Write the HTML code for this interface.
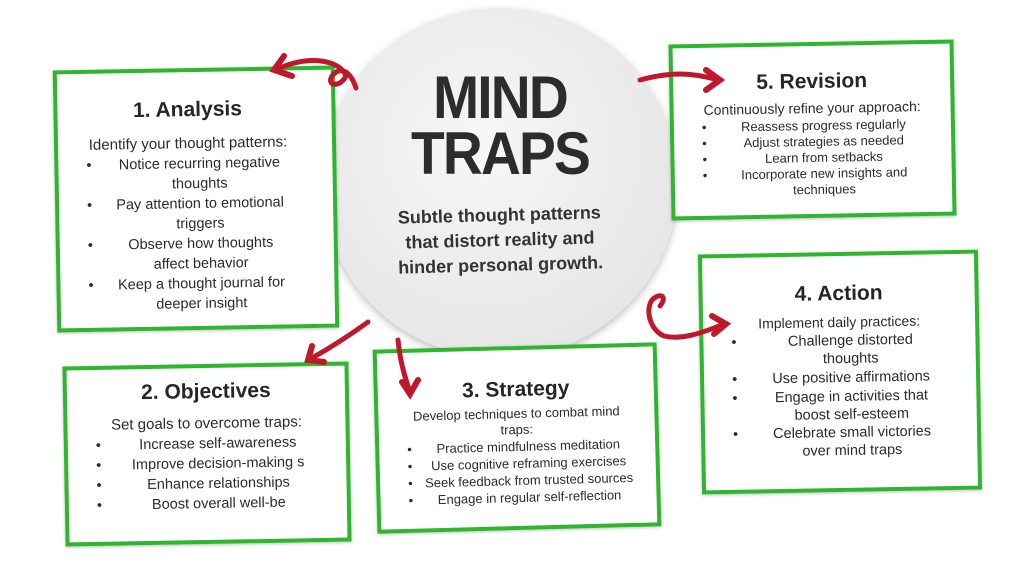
<!DOCTYPE html>
<html><head><meta charset="utf-8"><style>
html,body{margin:0;padding:0;}
body{width:1024px;height:576px;background:#fff;position:relative;overflow:hidden;font-family:"Liberation Sans",sans-serif;color:#2b2b2b;}
.box{position:absolute;border:4px solid #2fb52f;background:#fff;box-sizing:border-box;box-shadow:0 1px 3px rgba(0,0,0,.25);}
.box h2{margin:0;text-align:center;font-weight:bold;font-size:21px;color:#262626;}
.box .t{text-align:center;font-size:14px;line-height:20px;white-space:nowrap;}
.box ul{list-style:none;margin:0;padding:0;}
.box li{position:relative;text-align:center;font-size:14.5px;line-height:20px;padding-left:22px;white-space:nowrap;}
.box li:before{content:"•";position:absolute;left:28px;top:0;}
.circle{position:absolute;left:322px;top:8px;width:356px;height:350px;border-radius:50%;background:radial-gradient(circle at 45% 40%,#f7f7f7,#e6e6e6 75%,#dcdcdc);box-shadow:0 3px 8px rgba(0,0,0,.25);}
</style></head><body>
<div class="circle"></div>
<div style="position:absolute;left:322px;top:70px;width:356px;text-align:center;font-weight:bold;font-size:60px;line-height:56px;color:#2c2c2c;letter-spacing:-2px;transform:scaleX(0.92);">MIND<br>TRAPS</div>
<div style="position:absolute;left:350px;top:203px;width:300px;text-align:center;font-weight:bold;font-size:18px;line-height:25px;color:#333;transform:rotate(-1.5deg);">Subtle thought patterns<br>that distort reality and<br>hinder personal growth.</div>

<div class="box" style="left:55px;top:68px;width:282px;height:262px;transform:rotate(-1deg);padding-top:26px;padding-right:14px;">
<h2>1. Analysis</h2>
<div class="t" style="font-size:15px;margin-top:12px;">Identify your thought patterns:</div>
<ul><li>Notice recurring negative<br>thoughts</li><li>Pay attention to emotional<br>triggers</li><li>Observe how thoughts<br>affect behavior</li><li>Keep a thought journal for<br>deeper insight</li></ul>
</div>

<div class="box" style="left:670px;top:42px;width:285px;height:176px;transform:rotate(-1deg);padding-top:24px;">
<h2>5. Revision</h2>
<div class="t" style="margin-top:4px;">Continuously refine your approach:</div>
<ul><li style="font-size:13px;line-height:16px">Reassess progress regularly</li><li style="font-size:13px;line-height:16px">Adjust strategies as needed</li><li style="font-size:13px;line-height:16px">Learn from setbacks</li><li style="font-size:13px;line-height:16px">Incorporate new insights and<br>techniques</li></ul>
</div>

<div class="box" style="left:700px;top:252px;width:280px;height:240px;transform:rotate(-1deg);padding-top:26px;">
<h2>4. Action</h2>
<div class="t" style="margin-top:6px;">Implement daily practices:</div>
<ul><li style="line-height:18px">Challenge distorted<br>thoughts</li><li>Use positive affirmations</li><li style="line-height:18px">Engage in activities that<br>boost self-esteem</li><li style="line-height:18px">Celebrate small victories<br>over mind traps</li></ul>
</div>

<div class="box" style="left:64px;top:364px;width:286px;height:180px;transform:rotate(-1deg);padding-top:12px;">
<h2>2. Objectives</h2>
<div class="t" style="margin-top:10px;font-size:15px">Set goals to overcome traps:</div>
<ul><li>Increase self-awareness</li><li>Improve decision-making s</li><li>Enhance relationships</li><li>Boost overall well-be</li></ul>
</div>

<div class="box" style="left:375px;top:346px;width:284px;height:184px;transform:rotate(-1.5deg);padding-top:28px;">
<h2>3. Strategy</h2>
<div class="t" style="margin-top:4px;font-size:13px;line-height:16px">Develop techniques to combat mind<br>traps:</div>
<ul><li style="font-size:13px;line-height:17px">Practice mindfulness meditation</li><li style="font-size:13px;line-height:17px">Use cognitive reframing exercises</li><li style="font-size:13px;line-height:17px">Seek feedback from trusted sources</li><li style="font-size:13px;line-height:17px">Engage in regular self-reflection</li></ul>
</div>

<svg width="1024" height="576" style="position:absolute;left:0;top:0" fill="none" stroke="#c0182b" stroke-width="5" stroke-linecap="round">
<path d="M356 88 C350 70 340 66 332 76 C326 86 340 88 346 76 C340 60 310 55 280 68"/>
<path d="M284 56 L274 70 L292 76" stroke-width="6"/>
<path d="M640 80 C670 72 690 72 718 80"/>
<path d="M706 70 L720 80 L706 90" stroke-width="6"/>
<path d="M368 322 C350 335 330 348 312 358"/>
<path d="M312 346 L308 360 L324 362" stroke-width="6"/>
<path d="M398 340 C400 360 404 375 410 392"/>
<path d="M402 382 L410 394 L418 380" stroke-width="6"/>
<path d="M660 306 C668 296 660 292 652 300 C645 310 650 330 664 336 C680 340 700 334 724 324"/>
<path d="M712 316 L726 324 L714 334" stroke-width="6"/>
</svg>
</body></html>
